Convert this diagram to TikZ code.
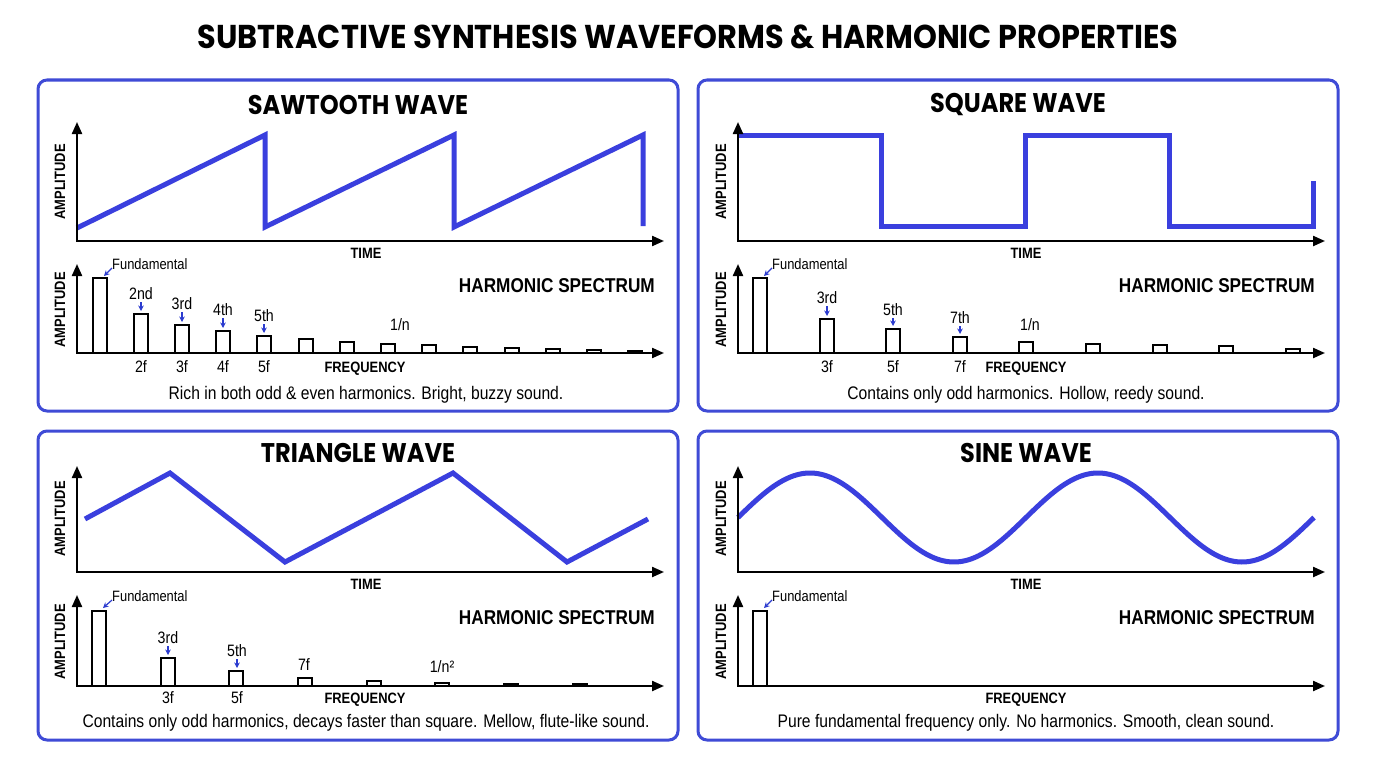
\documentclass[tikz,border=0pt]{standalone}
\usepackage{fontspec}
\setmainfont{Liberation Sans}[FakeStretch=0.86]
\newfontfamily\popfont{Poppins}[FakeStretch=0.92]
\newfontfamily\popnarrow{Poppins}[FakeStretch=0.89]
\usetikzlibrary{arrows.meta}
\definecolor{wave}{HTML}{3A3FDE}
\definecolor{frame}{HTML}{3F4BD6}
\definecolor{lab}{HTML}{2B3BCF}
\tikzset{
 panel/.style={draw=frame, line width=3pt, rounded corners=9pt},
 axis/.style={line width=2.2pt, line join=miter, {Triangle[length=12pt,width=10pt]}-{Triangle[length=12pt,width=10pt]}},
 wavel/.style={draw=wave, line width=5pt, line join=miter},
 bar/.style={draw=black, line width=1.8pt, fill=white},
 dbar/.style={draw=black, line width=1.2pt, fill=black},
 labarrow/.style={draw=lab, line width=1.2pt, -{Stealth[length=5.5pt,width=5.5pt]}},
 bigtitle/.style={font=\popfont\bfseries\fontsize{33}{35}\selectfont},
 ptitle/.style={font=\popnarrow\bfseries\fontsize{27}{28}\selectfont},
 axlab/.style={font=\bfseries\fontsize{15}{16}\selectfont, inner sep=0pt},
 hs/.style={font=\bfseries\fontsize{20}{22}\selectfont, anchor=east, inner sep=0pt},
 capt/.style={font=\fontsize{18.2}{20}\selectfont, anchor=base, inner sep=0pt},
 small/.style={font=\fontsize{16.5}{17}\selectfont, inner sep=0pt},
 fund/.style={font=\fontsize{15}{16}\selectfont, inner sep=0pt, anchor=west},
}
\begin{document}
\begin{tikzpicture}[x=1pt,y=-1pt]
\useasboundingbox (0,0) rectangle (1376,768);
\fill[white] (0,0) rectangle (1376,768);
\node[bigtitle] (title) at (688,37) {SUBTRACTIVE SYNTHESIS WAVEFORMS \& HARMONIC PROPERTIES};

% panels
\draw[panel] (38,80) rectangle (678,411);
\draw[panel] (698,80) rectangle (1338,411);
\draw[panel] (38,431) rectangle (678,740);
\draw[panel] (698,431) rectangle (1338,740);

% ================= SAWTOOTH =================
\node[ptitle] (t1) at (358,105) {SAWTOOTH WAVE};
\draw[wavel] (77,228) -- (265,135) -- (265,227) -- (454,135) -- (454,227) -- (643,135) -- (643,226);
\draw[axis] (77,122) -- (77,241) -- (664,241);
\node[axlab, rotate=90] (a1) at (60,182) {AMPLITUDE};
\node[axlab] (tm1) at (366,253) {TIME};
\foreach \c/\t in {100/278,141/314,182/325,223/331,264/336,306/339,347/342,388/344,429/345,470/347,512/348,553/349,594/350,635/351}
  \draw[bar] ({\c-7},353) rectangle ({\c+7},\t);
\draw[axis] (77,264) -- (77,353) -- (664,353);
\node[axlab, rotate=90] (a1s) at (60,310) {AMPLITUDE};
\node[hs] (h1) at (655,286) {HARMONIC SPECTRUM};
\node[fund] (f1) at (112,264) {Fundamental};
\coordinate (f1t) at (104,276);
\draw[labarrow] ([yshift=-4pt]f1.west) -- (f1t);
\node[small] (s2) at (141,294) {2nd};
\node[small] (s3) at (182,304) {3rd};
\node[small] (s4) at (223,310) {4th};
\node[small] (s5) at (264,316) {5th};
\coordinate (s2t) at (141,311);
\coordinate (s3t) at (182,322);
\coordinate (s4t) at (223,328);
\coordinate (s5t) at (264,333);
\draw[labarrow] ([yshift=-2pt]s2.south) -- (s2t);
\draw[labarrow] ([yshift=-2pt]s3.south) -- (s3t);
\draw[labarrow] ([yshift=-2pt]s4.south) -- (s4t);
\draw[labarrow] ([yshift=-2pt]s5.south) -- (s5t);
\node[small] (n1) at (400,325) {1/n};
\node[small] (q2) at (141,367) {2f};
\node[small] (q3) at (182,367) {3f};
\node[small] (q4) at (223,367) {4f};
\node[small] (q5) at (264,367) {5f};
\node[axlab] (fr1) at (365,369) {FREQUENCY};
\node[capt] (c1) at (366,399) {Rich in both odd \& even harmonics. Bright, buzzy sound.};

% ================= SQUARE =================
\node[ptitle] (t2) at (1018,105) {SQUARE WAVE};
\draw[wavel] (738,135) -- (881,135) -- (881,226) -- (1025,226) -- (1025,135) -- (1169,135) -- (1169,226) -- (1313,226) -- (1313,181);
\draw[axis] (738,122) -- (738,241) -- (1325,241);
\node[axlab, rotate=90] (a2) at (721,182) {AMPLITUDE};
\node[axlab] (tm2) at (1026,253) {TIME};
\foreach \c/\t in {760/278,827/319,893/329,960/337,1026/342,1093/344,1160/345,1226/346,1293/349}
  \draw[bar] ({\c-7},353) rectangle ({\c+7},\t);
\draw[axis] (738,264) -- (738,353) -- (1325,353);
\node[axlab, rotate=90] (a2s) at (721,310) {AMPLITUDE};
\node[hs] (h2) at (1315,286) {HARMONIC SPECTRUM};
\node[fund] (f2) at (772,264) {Fundamental};
\coordinate (f2t) at (764,276);
\draw[labarrow] ([yshift=-4pt]f2.west) -- (f2t);
\node[small] (r3) at (827,298) {3rd};
\node[small] (r5) at (893,310) {5th};
\node[small] (r7) at (960,318) {7th};
\coordinate (r3t) at (827,316);
\coordinate (r5t) at (893,326);
\coordinate (r7t) at (960,334);
\draw[labarrow] ([yshift=-2pt]r3.south) -- (r3t);
\draw[labarrow] ([yshift=-2pt]r5.south) -- (r5t);
\draw[labarrow] ([yshift=-2pt]r7.south) -- (r7t);
\node[small] (n2) at (1030,325) {1/n};
\node[small] (p3) at (827,367) {3f};
\node[small] (p5) at (893,367) {5f};
\node[small] (p7) at (960,367) {7f};
\node[axlab] (fr2) at (1026,369) {FREQUENCY};
\node[capt] (c2) at (1026,399) {Contains only odd harmonics. Hollow, reedy sound.};

% ================= TRIANGLE =================
\node[ptitle] (t3) at (358,453) {TRIANGLE WAVE};
\draw[wavel] (85,519) -- (170,473) -- (285,562) -- (453,473) -- (567,562) -- (648,519);
\draw[axis] (77,466) -- (77,572) -- (664,572);
\node[axlab, rotate=90] (a3) at (60,519) {AMPLITUDE};
\node[axlab] (tm3) at (366,584) {TIME};
\foreach \c/\t in {99/611,168/658,236/671,305/678,374/681,442/683}
  \draw[bar] ({\c-7},686) rectangle ({\c+7},\t);
\foreach \c in {511,580}
  \draw[dbar] ({\c-7},686) rectangle ({\c+7},683.5);
\draw[axis] (77,595) -- (77,686) -- (664,686);
\node[axlab, rotate=90] (a3s) at (60,642) {AMPLITUDE};
\node[hs] (h3) at (655,618) {HARMONIC SPECTRUM};
\node[fund] (f3) at (112,596) {Fundamental};
\coordinate (f3t) at (103,608);
\draw[labarrow] ([yshift=-4pt]f3.west) -- (f3t);
\node[small] (u3) at (168,638) {3rd};
\node[small] (u5) at (237,651) {5th};
\coordinate (u3t) at (168,655);
\coordinate (u5t) at (237,668);
\draw[labarrow] ([yshift=-2pt]u3.south) -- (u3t);
\draw[labarrow] ([yshift=-2pt]u5.south) -- (u5t);
\node[small] (u7) at (304,665) {7f};
\node[small] (n3) at (442,667) {1/n²};
\node[small] (v3) at (168,698) {3f};
\node[small] (v5) at (237,698) {5f};
\node[axlab] (fr3) at (365,700) {FREQUENCY};
\node[capt] (c3) at (366,727) {Contains only odd harmonics, decays faster than square. Mellow, flute-like sound.};

% ================= SINE =================
\node[ptitle] (t4) at (1026,453) {SINE WAVE};
\draw[wavel] plot[domain=0:576, samples=240, smooth] ({\x+738}, {517.5-44.5*sin(\x*1.25)});
\draw[axis] (738,466) -- (738,572) -- (1325,572);
\node[axlab, rotate=90] (a4) at (721,519) {AMPLITUDE};
\node[axlab] (tm4) at (1026,584) {TIME};
\draw[bar] (753,686) rectangle (767,611);
\draw[axis] (738,595) -- (738,686) -- (1325,686);
\node[axlab, rotate=90] (a4s) at (721,642) {AMPLITUDE};
\node[hs] (h4) at (1315,618) {HARMONIC SPECTRUM};
\node[fund] (f4) at (772,596) {Fundamental};
\coordinate (f4t) at (764,608);
\draw[labarrow] ([yshift=-4pt]f4.west) -- (f4t);
\node[axlab] (fr4) at (1026,700) {FREQUENCY};
\node[capt] (c4) at (1026,727) {Pure fundamental frequency only. No harmonics. Smooth, clean sound.};
\end{tikzpicture}
\end{document}
